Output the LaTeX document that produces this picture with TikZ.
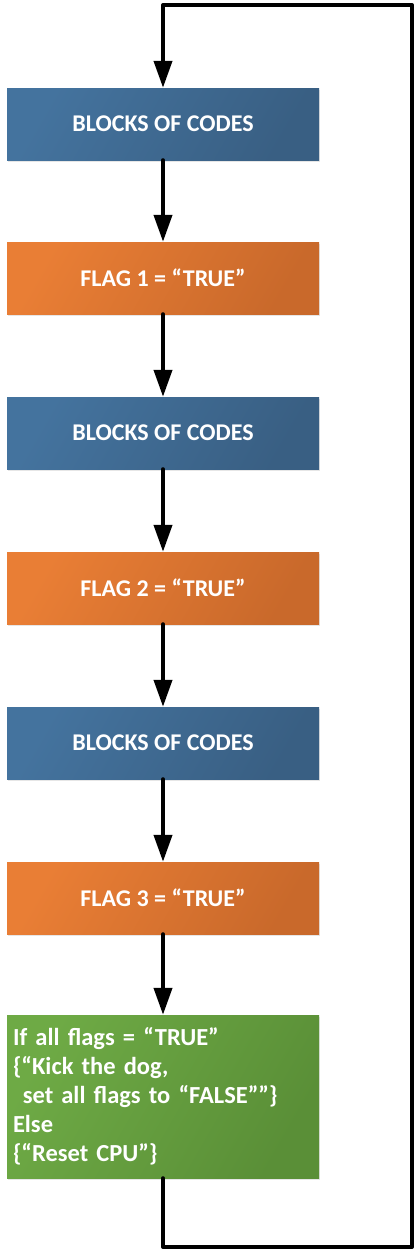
\documentclass[tikz,border=0pt]{standalone}
\usepackage{fontspec}
\setmainfont{Carlito}
\usetikzlibrary{arrows.meta,shadows}

\definecolor{blueA}{HTML}{44739E}
\definecolor{blueB}{HTML}{395F83}
\definecolor{orangeA}{HTML}{E97E35}
\definecolor{orangeB}{HTML}{C9692B}
\definecolor{greenA}{HTML}{6EAA45}
\definecolor{greenB}{HTML}{5A8F37}

\tikzset{
  box/.style={minimum width=312pt, minimum height=72pt, inner sep=0pt,
    text=white, font=\fontsize{24}{28}\selectfont\bfseries,
    drop shadow={opacity=0.2, shadow xshift=1pt, shadow yshift=-1.5pt}},
  codebox/.style={box, left color=blueA, right color=blueB, shading angle=60},
  flagbox/.style={box, left color=orangeA, right color=orangeB, shading angle=60},
  checkbox/.style={box, left color=greenA, right color=greenB, shading angle=60,
    minimum height=163pt, text width=300pt, inner xsep=6pt, align=left,
    font=\fontsize{24.5}{29}\selectfont\bfseries},
  flow/.style={line width=4pt, line cap=round, line join=round,
    -{Triangle[length=27pt,width=18pt]}}
}

\begin{document}
\begin{tikzpicture}[x=1pt, y=-1pt]

  \useasboundingbox (0,0) rectangle (418,1253);

  \node[codebox] (code1) at (163,124) {BLOCKS OF CODES};
  \node[flagbox] (flag1) at (163,278) {FLAG 1 = “TRUE”};
  \node[codebox] (code2) at (163,433) {BLOCKS OF CODES};
  \node[flagbox] (flag2) at (163,588) {FLAG 2 = “TRUE”};
  \node[codebox] (code3) at (163,743) {BLOCKS OF CODES};
  \node[flagbox] (flag3) at (163,898) {FLAG 3 = “TRUE”};
  \node[checkbox] (check) at (163,1096.5) {If all flags = “TRUE”\\
    \{“Kick the dog,\\
    \hspace*{0.4em}set all flags to “FALSE””\}\\
    Else\\
    \{“Reset CPU”\}};

  \draw[flow] (code1) -- (flag1);
  \draw[flow] (flag1) -- (code2);
  \draw[flow] (code2) -- (flag2);
  \draw[flow] (flag2) -- (code3);
  \draw[flow] (code3) -- (flag3);
  \draw[flow] (flag3) -- (check);

  % loop back to the top
  \coordinate (botleft) at (163,1247);
  \coordinate (botright) at (412,1247);
  \coordinate (topright) at (412,5);
  \coordinate (topleft) at (163,5);
  \draw[flow] (check.south) -- (botleft) -- (botright) -- (topright) -- (topleft) -- (code1.north);

\end{tikzpicture}
\end{document}
